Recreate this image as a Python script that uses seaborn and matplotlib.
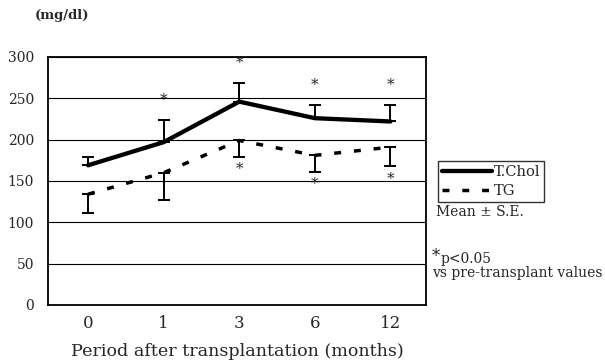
import numpy as np
import pandas as pd
import seaborn as sns
import matplotlib
matplotlib.use('Agg')
import matplotlib.pyplot as plt
from matplotlib.lines import Line2D

# data
months = ['0', '1', '3', '6', '12']
tchol_mean = [169, 197, 246, 226, 222]
tchol_se = [10, 27, 23, 16, 20]
tg_mean = [134, 160, 199, 181, 191]
tg_se = [23, 33, 20, 20, 23]
tchol_sig = [False, True, True, True, True]
tg_sig = [False, False, True, True, True]

sns.set_style('white')
plt.rcParams['font.family'] = ['DejaVu Serif']

df = pd.DataFrame({
    'pos': list(range(len(months))) * 2,
    'value': tchol_mean + tg_mean,
    'series': ['T.Chol'] * len(months) + ['TG'] * len(months),
})

fig = plt.figure(figsize=(6.05, 3.62), dpi=100)
ax = fig.add_axes([48 / 605, 1 - 305 / 362, 378 / 605, 248 / 362])

tg_dash = (2.0, 3.7)
sns.lineplot(data=df, x='pos', y='value', hue='series', style='series',
             palette={'T.Chol': 'black', 'TG': 'black'},
             dashes={'T.Chol': '', 'TG': tg_dash},
             size='series', sizes={'T.Chol': 3.1, 'TG': 2.5},
             legend=False, ax=ax, zorder=3)

x = np.arange(len(months))
# T.Chol: upper bars only, TG: lower bars only
ax.errorbar(x, tchol_mean, yerr=[np.zeros(len(x)), tchol_se], fmt='none',
            ecolor='black', elinewidth=1.4, capsize=4, capthick=1.4, zorder=4)
ax.errorbar(x, tg_mean, yerr=[tg_se, np.zeros(len(x))], fmt='none',
            ecolor='black', elinewidth=1.4, capsize=4, capthick=1.4, zorder=4)

for i in range(len(months)):
    if tchol_sig[i]:
        ax.text(x[i], tchol_mean[i] + tchol_se[i] + 24, '*', ha='center', va='center',
                fontsize=11)
    if tg_sig[i]:
        ax.text(x[i], tg_mean[i] - tg_se[i] - 15, '*', ha='center', va='center',
                fontsize=11)

ax.set_ylim(0, 300)
ax.set_xlim(-0.53, 4.47)
ax.set_yticks(range(0, 301, 50))
ax.set_yticklabels([str(v) for v in range(0, 301, 50)], fontsize=10)
ax.set_xticks(x)
ax.set_xticklabels(months, fontsize=12)
ax.tick_params(axis='x', length=0, pad=7)
ax.tick_params(axis='y', length=0, pad=10)
ax.yaxis.grid(True, color='black', linewidth=0.8)
ax.set_axisbelow(True)
for s in ax.spines.values():
    s.set_color('black')
    s.set_linewidth(1.3)
ax.set_xlabel('Period after transplantation (months)', fontsize=12.6, labelpad=8)
ax.set_ylabel('')

fig.text(35 / 605, 1 - 16 / 362, '(mg/dl)', fontsize=9.5, fontweight='bold', va='center')

handles = [Line2D([], [], color='black', linewidth=3.1),
           Line2D([], [], color='black', linewidth=2.5, dashes=tg_dash)]
leg = fig.legend(handles, ['T.Chol', 'TG'], loc='upper left',
                 bbox_to_anchor=(438 / 605, 1 - 161 / 362), fontsize=10.5,
                 frameon=True, fancybox=False, edgecolor='black',
                 handlelength=3.4, handletextpad=0.1, borderpad=0.3,
                 labelspacing=0.3, borderaxespad=0)
leg.get_frame().set_linewidth(1.0)

fig.text(436 / 605, 1 - 212 / 362, 'Mean \u00b1 S.E.', fontsize=10, va='center')
fig.text(432 / 605, 1 - 256 / 362, '*', fontsize=12, va='center')
fig.text(441 / 605, 1 - 259 / 362, 'p<0.05', fontsize=10, va='center')
fig.text(432 / 605, 1 - 273 / 362, 'vs pre-transplant values', fontsize=10, va='center')

fig.savefig('out.png', dpi=100)
